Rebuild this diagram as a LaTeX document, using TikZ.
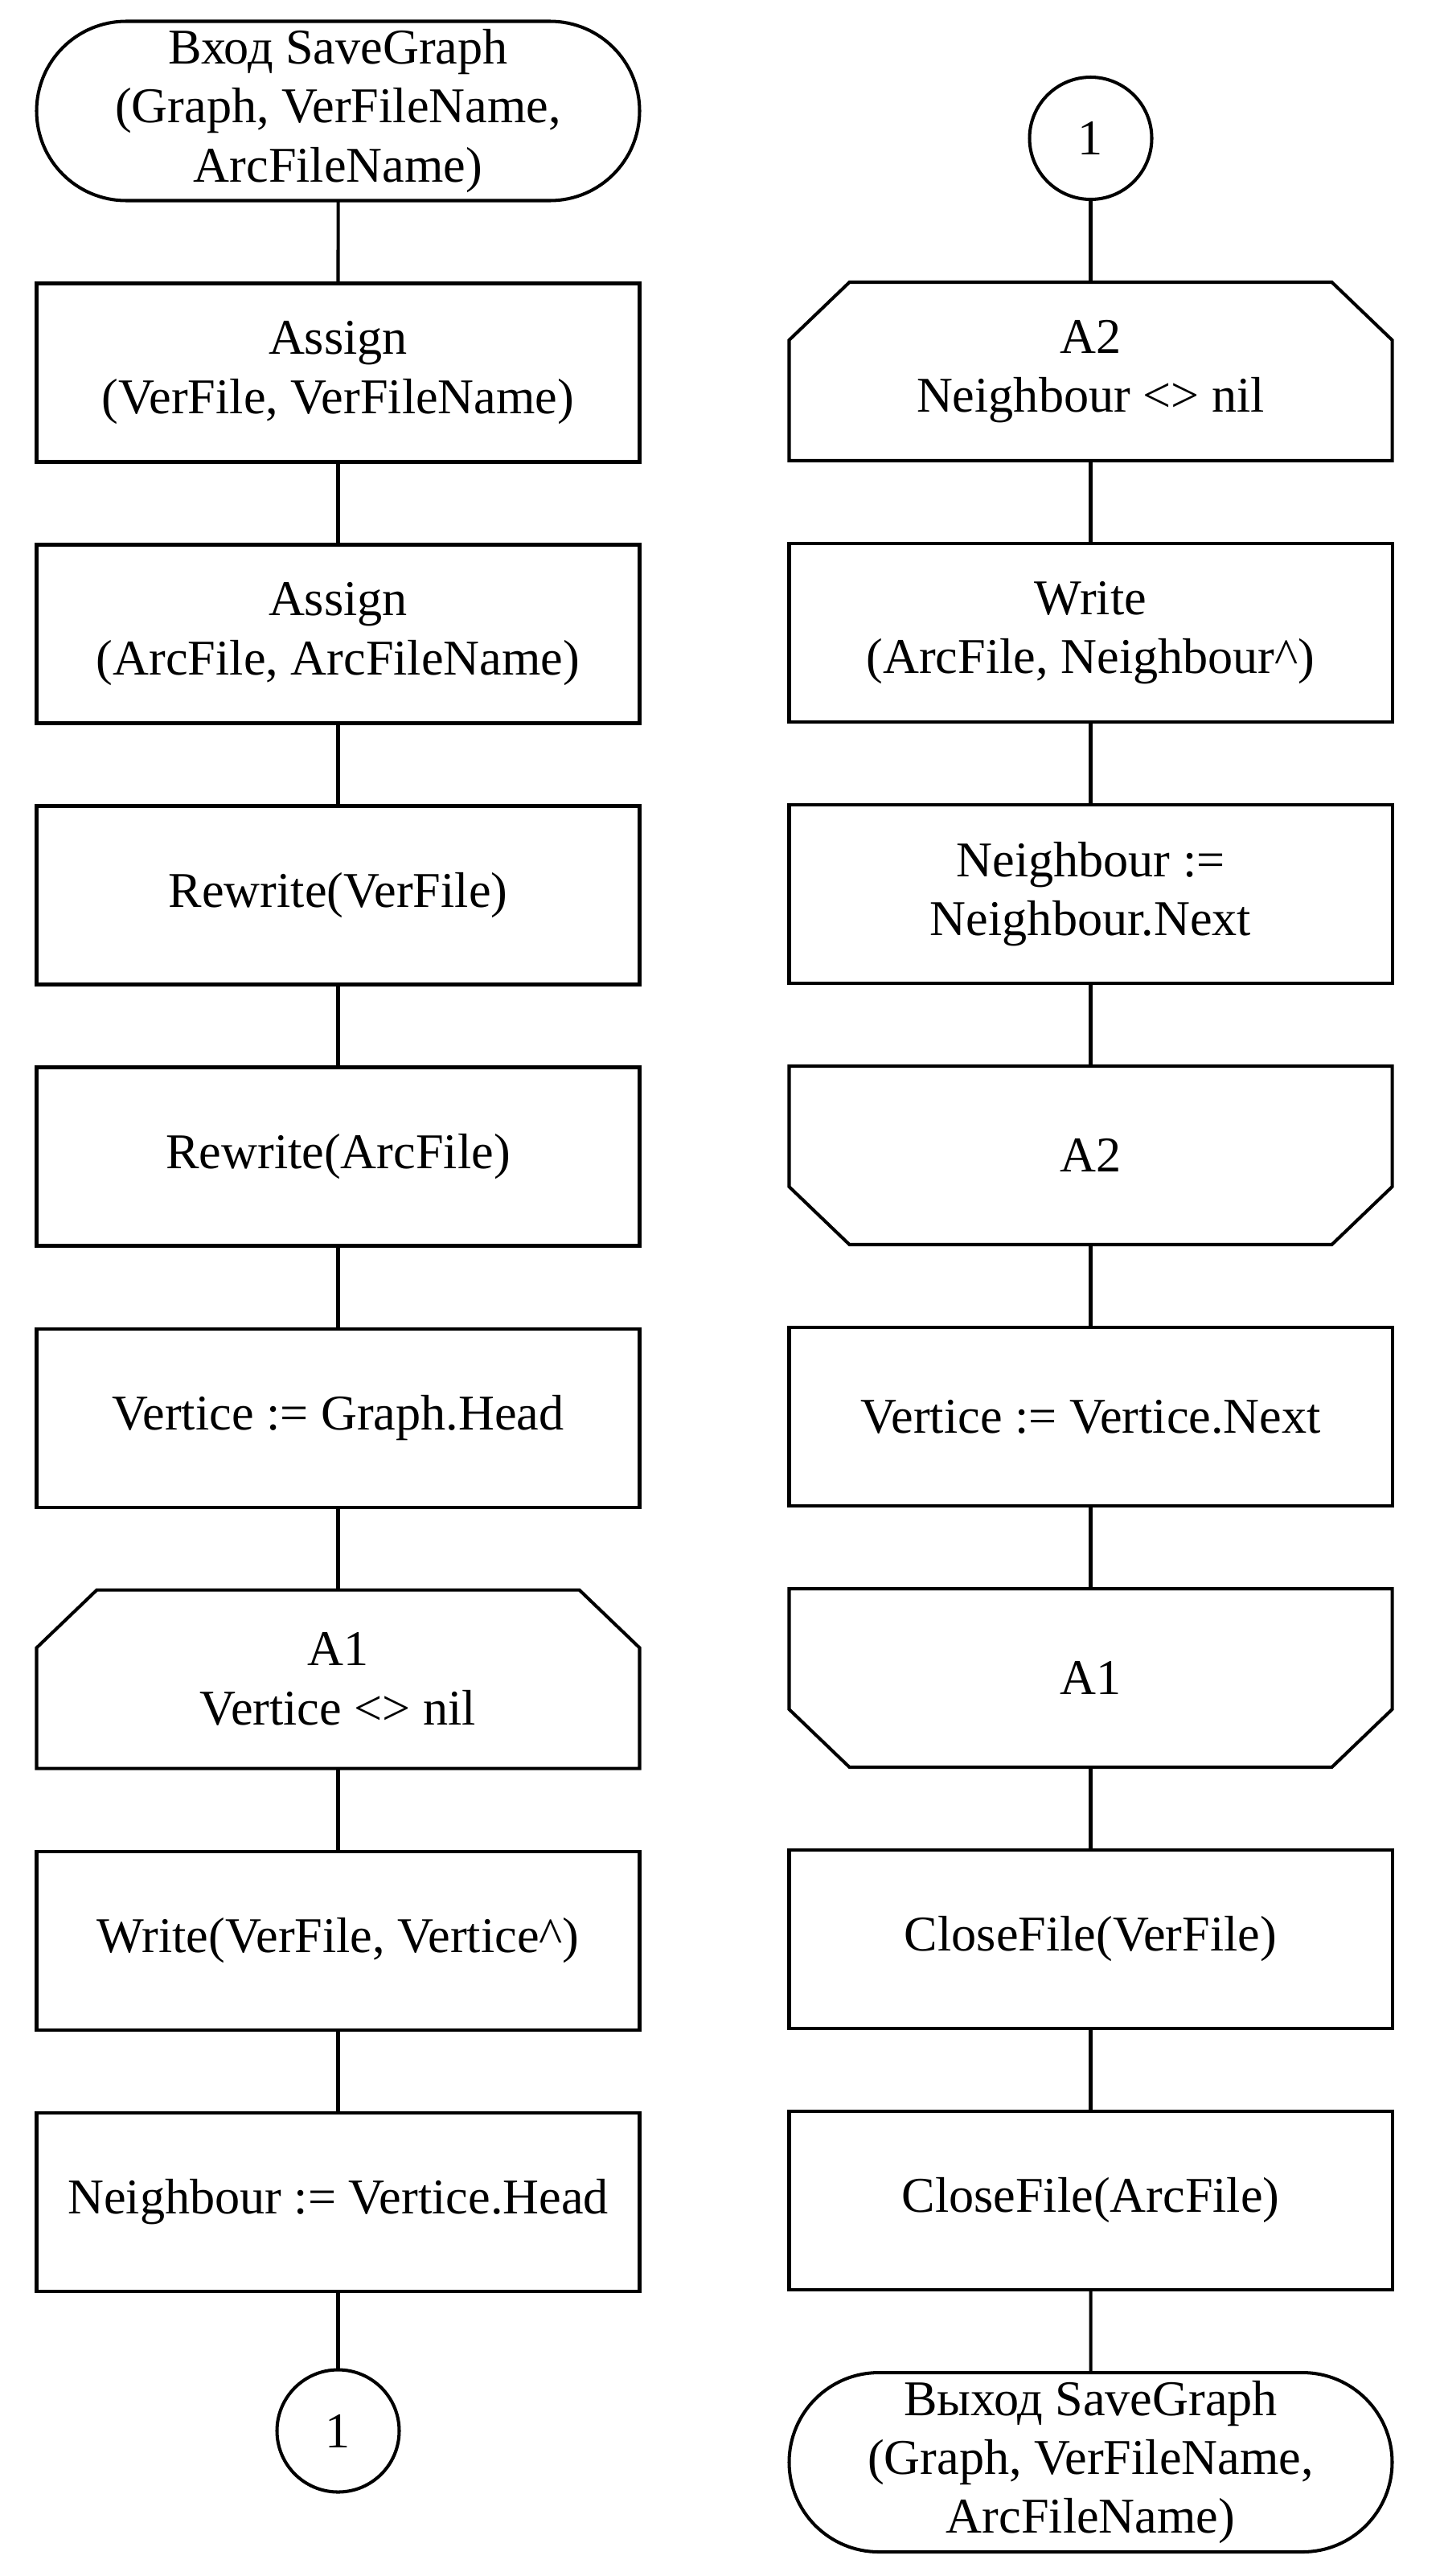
\documentclass[tikz,border=0pt]{standalone}
\usepackage{fontspec}
\setmainfont{Liberation Serif}
\usepackage{tikz}
\usetikzlibrary{positioning,shapes.misc}

\begin{document}
\begin{tikzpicture}[
    node distance=1.03cm,
    every node/.style={font=\fontsize{17.7}{20.9}\selectfont, outer sep=0pt},
    line/.style={line width=1.15pt},
    box/.style={rectangle, draw, line width=1.15pt, minimum width=7.5cm, minimum height=2.22cm, inner sep=0pt, align=center},
    term/.style={rounded rectangle, draw, line width=1.15pt, minimum width=7.5cm, minimum height=2.23cm, inner sep=0pt, align=center},
    loopbox/.style={rectangle, minimum width=7.5cm, minimum height=2.22cm, inner sep=0pt, align=center},
    conn/.style={circle, draw, line width=1.15pt, minimum size=1.52cm, inner sep=0pt}
]
\useasboundingbox (0,0) rectangle (17.96,-32.04);

% Left column
\node[term] (start) at (4.205,-1.38) {Вход SaveGraph\\(Graph, VerFileName,\\ArcFileName)};
\node[box, below=of start] (asgver) {Assign\\(VerFile, VerFileName)};
\node[box, below=of asgver] (asgarc) {Assign\\(ArcFile, ArcFileName)};
\node[box, below=of asgarc] (rwver) {Rewrite(VerFile)};
\node[box, below=of rwver] (rwarc) {Rewrite(ArcFile)};
\node[box, below=of rwarc] (vhead) {Vertice := Graph.Head};
\node[loopbox, below=of vhead] (aonebeg) {A1\\Vertice <> nil};
\node[box, below=of aonebeg] (wrver) {Write(VerFile, Vertice\textasciicircum)};
\node[box, below=of wrver] (nhead) {Neighbour := Vertice.Head};
\node[conn, below=0.98cm of nhead] (outc) {1};

% Right column
\node[conn] (inc) at (13.565,-1.72) {1};
\node[loopbox, below=of inc] (atwobeg) {A2\\Neighbour <> nil};
\node[box, below=of atwobeg] (wrarc) {Write\\(ArcFile, Neighbour\textasciicircum)};
\node[box, below=of wrarc] (nnext) {Neighbour :=\\Neighbour.Next};
\node[loopbox, below=of nnext] (atwoend) {A2};
\node[box, below=of atwoend] (vnext) {Vertice := Vertice.Next};
\node[loopbox, below=of vnext] (aoneend) {A1};
\node[box, below=of aoneend] (clver) {CloseFile(VerFile)};
\node[box, below=of clver] (clarc) {CloseFile(ArcFile)};
\node[term, below=of clarc] (stop) {Выход SaveGraph\\(Graph, VerFileName,\\ArcFileName)};

% Loop borders
\foreach \n in {aonebeg, atwobeg}
    \draw[line] ([xshift=0.75cm]\n.north west) -- ([xshift=-0.75cm]\n.north east) -- ([yshift=-0.72cm]\n.north east)
        -- (\n.south east) -- (\n.south west) -- ([yshift=-0.72cm]\n.north west) -- cycle;
\foreach \n in {atwoend, aoneend}
    \draw[line] (\n.north west) -- (\n.north east) -- ([yshift=0.72cm]\n.south east)
        -- ([xshift=-0.75cm]\n.south east) -- ([xshift=0.75cm]\n.south west) -- ([yshift=0.72cm]\n.south west) -- cycle;

% Lines
\draw[line] (start) -- (asgver);
\draw[line] (asgver) -- (asgarc);
\draw[line] (asgarc) -- (rwver);
\draw[line] (rwver) -- (rwarc);
\draw[line] (rwarc) -- (vhead);
\draw[line] (vhead) -- (aonebeg);
\draw[line] (aonebeg) -- (wrver);
\draw[line] (wrver) -- (nhead);
\draw[line] (nhead) -- (outc);

\draw[line] (inc) -- (atwobeg);
\draw[line] (atwobeg) -- (wrarc);
\draw[line] (wrarc) -- (nnext);
\draw[line] (nnext) -- (atwoend);
\draw[line] (atwoend) -- (vnext);
\draw[line] (vnext) -- (aoneend);
\draw[line] (aoneend) -- (clver);
\draw[line] (clver) -- (clarc);
\draw[line] (clarc) -- (stop);

\end{tikzpicture}
\end{document}
